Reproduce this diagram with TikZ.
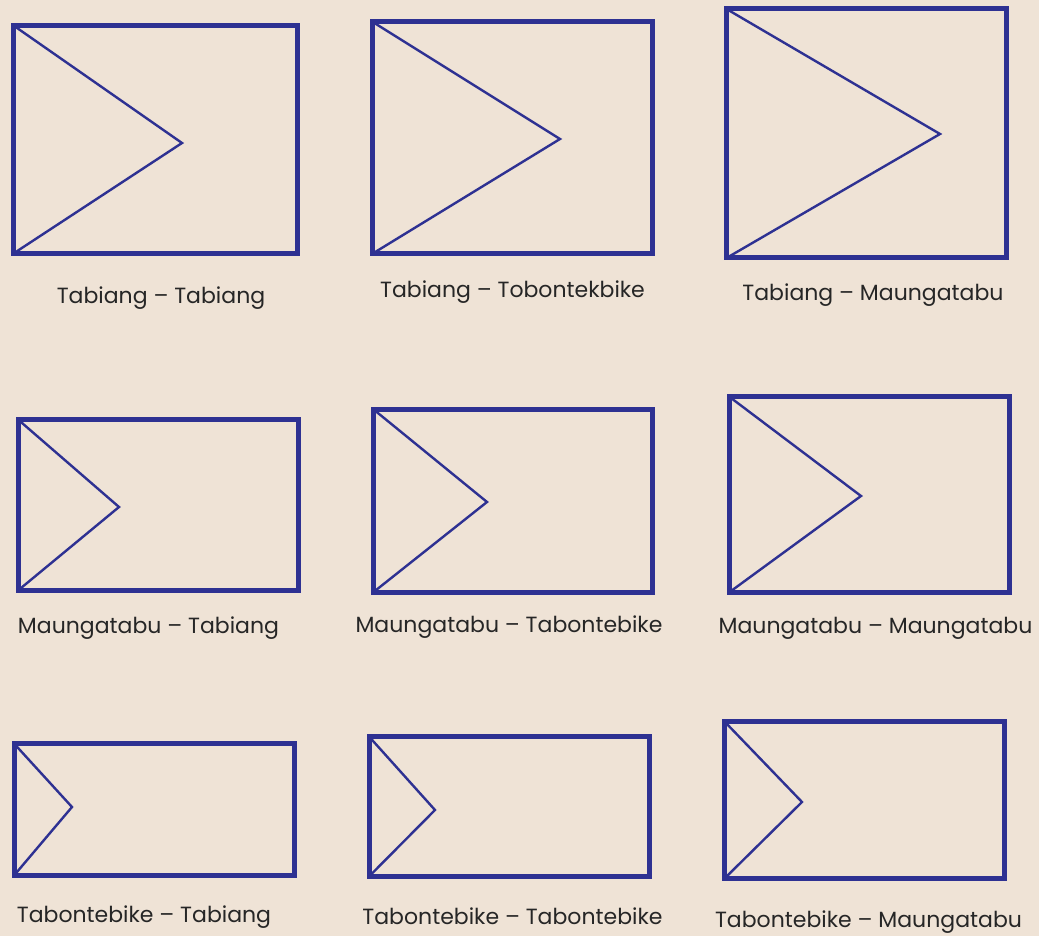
\documentclass[tikz,border=0pt]{standalone}
\usepackage{fontspec}
\setmainfont{Poppins}
\usepackage{tikz}
\usetikzlibrary{positioning}
\usepackage{xcolor}
\definecolor{flagblue}{HTML}{2E3192}
\definecolor{paper}{HTML}{EFE3D6}
\definecolor{ink}{HTML}{262626}

\begin{document}
\begin{tikzpicture}[
    x=1pt, y=-1pt,
    flagbox/.style={draw=flagblue, line width=5pt, rectangle, outer sep=0pt, inner sep=0pt},
    flagline/.style={draw=flagblue, line width=2.4pt},
    caption/.style={font=\fontsize{22}{26}\selectfont, text=ink, anchor=base, inner sep=0pt}
]

\fill[paper] (0,0) rectangle (1039,936);
\useasboundingbox (0,0) rectangle (1039,936);

% first row
\node[flagbox, minimum width=284pt, minimum height=228pt] (tabtab) at (155.5,139.5) {};
\coordinate (tabtab-tip) at (182,143);
\draw[flagline] (tabtab.north west) -- (tabtab-tip) -- (tabtab.south west);
\node[caption] (tabtab-lbl) at (161,303) {Tabiang – Tabiang};

\node[flagbox, minimum width=280pt, minimum height=232.5pt] (tabtob) at (512,137.75) {};
\coordinate (tabtob-tip) at (560,139);
\draw[flagline] (tabtob.north west) -- (tabtob-tip) -- (tabtob.south west);
\node[caption] (tabtob-lbl) at (512.5,298) {Tabiang – Tobontekbike};

\node[flagbox, minimum width=280pt, minimum height=249pt] (tabmau) at (866.5,133.5) {};
\coordinate (tabmau-tip) at (940,134);
\draw[flagline] (tabmau.north west) -- (tabmau-tip) -- (tabmau.south west);
\node[caption] (tabmau-lbl) at (873,300) {Tabiang – Maungatabu};

% second row
\node[flagbox, minimum width=280pt, minimum height=171pt] (mautab) at (158,505) {};
\coordinate (mautab-tip) at (119,507);
\draw[flagline] (mautab.north west) -- (mautab-tip) -- (mautab.south west);
\node[caption] (mautab-lbl) at (148.5,633) {Maungatabu – Tabiang};

\node[flagbox, minimum width=279.5pt, minimum height=183.5pt] (mautob) at (512.75,500.75) {};
\coordinate (mautob-tip) at (487,502);
\draw[flagline] (mautob.north west) -- (mautob-tip) -- (mautob.south west);
\node[caption] (mautob-lbl) at (509,632) {Maungatabu – Tabontebike};

\node[flagbox, minimum width=280pt, minimum height=196pt] (maumau) at (869,494.5) {};
\coordinate (maumau-tip) at (861,496);
\draw[flagline] (maumau.north west) -- (maumau-tip) -- (maumau.south west);
\node[caption] (maumau-lbl) at (875.5,633) {Maungatabu – Maungatabu};

% third row
\node[flagbox, minimum width=280pt, minimum height=132pt] (tobtab) at (154,809.5) {};
\coordinate (tobtab-tip) at (72,807);
\draw[flagline] (tobtab.north west) -- (tobtab-tip) -- (tobtab.south west);
\node[caption] (tobtab-lbl) at (144,922) {Tabontebike – Tabiang};

\node[flagbox, minimum width=280.5pt, minimum height=140pt] (tobtob) at (509.25,806.5) {};
\coordinate (tobtob-tip) at (435,810);
\draw[flagline] (tobtob.north west) -- (tobtob-tip) -- (tobtob.south west);
\node[caption] (tobtob-lbl) at (512.5,924) {Tabontebike – Tabontebike};

\node[flagbox, minimum width=279.5pt, minimum height=157pt] (tobmau) at (864.25,800) {};
\coordinate (tobmau-tip) at (802,802);
\draw[flagline] (tobmau.north west) -- (tobmau-tip) -- (tobmau.south west);
\node[caption] (tobmau-lbl) at (868.5,927) {Tabontebike – Maungatabu};

\end{tikzpicture}
\end{document}
